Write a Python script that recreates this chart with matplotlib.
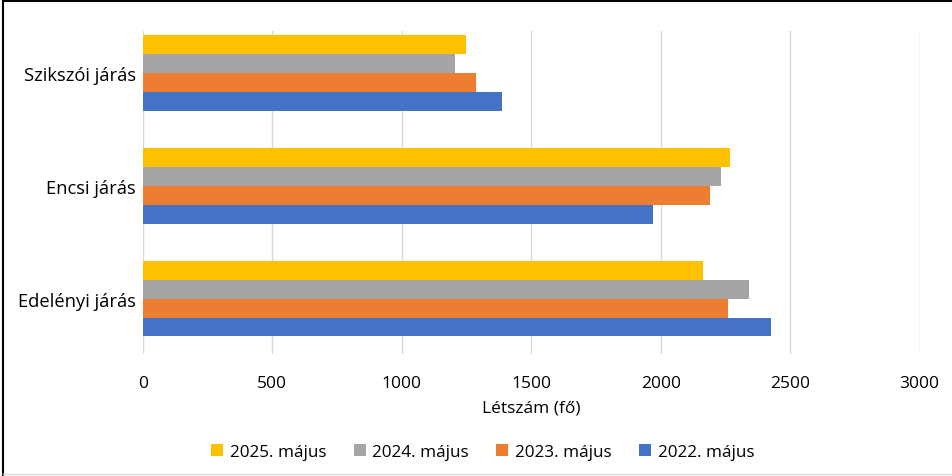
import matplotlib.pyplot as plt
from matplotlib.lines import Line2D
import numpy as np

plt.rcParams['font.family'] = ['Open Sans', 'DejaVu Sans']

categories = ['Edelényi járás', 'Encsi járás', 'Szikszói járás']
series = ['2022. május', '2023. május', '2024. május', '2025. május']
values = {
    '2022. május': [2425, 1970, 1386],
    '2023. május': [2261, 2192, 1288],
    '2024. május': [2341, 2234, 1205],
    '2025. május': [2165, 2268, 1250],
}
colors = ['#4472C4', '#ED7D31', '#A5A5A5', '#FFC000']
xticks = [0, 500, 1000, 1500, 2000, 2500, 3000]

fig = plt.figure(figsize=(9.52, 4.77), dpi=100)
ax = fig.add_axes([0.150, 0.256, 0.816, 0.677])

h = 0.168
y = np.arange(len(categories))
for i, (s, c) in enumerate(zip(series, colors)):
    offs = (i - 1.5) * h
    ax.barh(y + offs, values[s], height=h, color=c, label=s, zorder=3)

ax.set_xlim(0, 3000)
ax.set_ylim(-0.49, 2.37)
ax.set_xticks(xticks)
ax.set_xticklabels([str(t) for t in xticks], fontsize=12.5)
ax.set_yticks(y)
ax.set_yticklabels(categories, fontsize=13.2)
ax.grid(axis='x', color='#D9D9D9', linewidth=1, zorder=0)
for sp in ax.spines.values():
    sp.set_visible(False)
ax.tick_params(axis='both', length=0)
ax.tick_params(axis='x', pad=15)
ax.tick_params(axis='y', pad=5)
ax.set_xlabel('Létszám (fő)', fontsize=12.5, labelpad=6)

handles, labels = ax.get_legend_handles_labels()
fig.legend(handles[::-1], labels[::-1], loc='center', bbox_to_anchor=(0.507, 0.05),
           ncol=4, frameon=False, fontsize=12.3, handlelength=0.7, handleheight=0.7,
           columnspacing=1.6, handletextpad=0.4)

# outer frame
fig.add_artist(Line2D([0.003, 0.003], [0, 0.995], color='black', linewidth=1.5, transform=fig.transFigure))
fig.add_artist(Line2D([0.003, 1], [0.995, 0.995], color='black', linewidth=1.5, transform=fig.transFigure))
fig.add_artist(Line2D([0.003, 1], [0.004, 0.004], color='#D9D9D9', linewidth=1, transform=fig.transFigure))

plt.savefig('out.png', dpi=100)
